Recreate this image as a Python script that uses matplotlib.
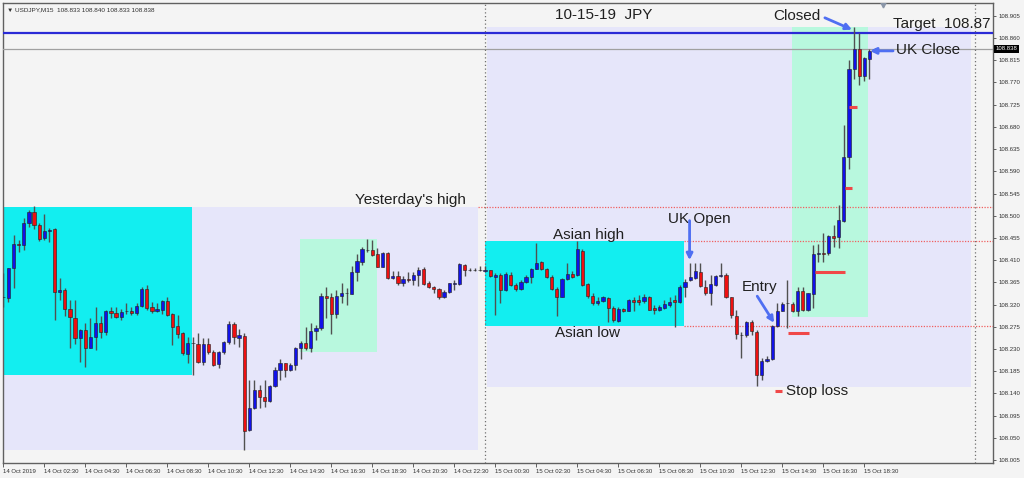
import numpy as np
import matplotlib.pyplot as plt
from matplotlib.patches import Rectangle

# USDJPY M15 candles, 14 Oct 00:30 -> 15 Oct 19:00
opens = [108.336, 108.334, 108.394, 108.443, 108.440, 108.486, 108.507, 108.481, 108.454, 108.469,
         108.473, 108.346, 108.350, 108.312, 108.293, 108.253, 108.269, 108.233, 108.254, 108.283,
         108.265, 108.306, 108.302, 108.294, 108.306, 108.306, 108.302, 108.318, 108.352, 108.316,
         108.306, 108.309, 108.327, 108.300, 108.277, 108.262, 108.220, 108.243, 108.241, 108.203,
         108.241, 108.223, 108.199, 108.223, 108.245, 108.280, 108.253, 108.257, 108.066, 108.110,
         108.147, 108.133, 108.125, 108.154, 108.187, 108.201, 108.187, 108.198, 108.231, 108.242,
         108.231, 108.266, 108.272, 108.337, 108.336, 108.301, 108.337, 108.343, 108.341, 108.386,
         108.407, 108.431, 108.431, 108.423, 108.397, 108.425, 108.373, 108.377, 108.363, 108.372,
         108.369, 108.379, 108.392, 108.363, 108.356, 108.351, 108.336, 108.346, 108.361, 108.361,
         108.400, 108.390, 108.390, 108.390, 108.388, 108.390, 108.375, 108.380, 108.350, 108.380,
         108.360, 108.351, 108.366, 108.375, 108.392, 108.406, 108.392, 108.375, 108.351, 108.336,
         108.371, 108.381, 108.380, 108.429, 108.361, 108.337, 108.323, 108.328, 108.333, 108.314,
         108.287, 108.312, 108.307, 108.329, 108.329, 108.328, 108.336, 108.314, 108.310, 108.314,
         108.319, 108.329, 108.326, 108.355, 108.369, 108.373, 108.385, 108.356, 108.344, 108.360,
         108.378, 108.380, 108.335, 108.297, 108.258, 108.258, 108.285, 108.265, 108.177, 108.206,
         108.210, 108.277, 108.307, 108.323, 108.321, 108.306, 108.348, 108.308, 108.342, 108.423,
         108.424, 108.424, 108.459, 108.456, 108.490, 108.618, 108.797, 108.838, 108.783, 108.817,
         108.833]
highs = [108.383, 108.394, 108.461, 108.451, 108.495, 108.512, 108.519, 108.485, 108.504, 108.476,
         108.475, 108.373, 108.353, 108.329, 108.329, 108.270, 108.282, 108.292, 108.316, 108.296,
         108.309, 108.316, 108.316, 108.312, 108.323, 108.316, 108.323, 108.356, 108.360, 108.326,
         108.323, 108.329, 108.335, 108.302, 108.298, 108.265, 108.255, 108.255, 108.263, 108.252,
         108.252, 108.228, 108.225, 108.247, 108.287, 108.285, 108.270, 108.262, 108.168, 108.168,
         108.157, 108.168, 108.157, 108.194, 108.209, 108.202, 108.202, 108.235, 108.247, 108.274,
         108.283, 108.279, 108.343, 108.356, 108.344, 108.350, 108.363, 108.353, 108.399, 108.423,
         108.437, 108.452, 108.450, 108.434, 108.427, 108.427, 108.389, 108.387, 108.377, 108.385,
         108.385, 108.397, 108.397, 108.368, 108.358, 108.354, 108.350, 108.364, 108.370, 108.404,
         108.402, 108.395, 108.395, 108.398, 108.399, 108.391, 108.383, 108.383, 108.385, 108.385,
         108.363, 108.370, 108.380, 108.395, 108.444, 108.408, 108.394, 108.380, 108.356, 108.373,
         108.404, 108.387, 108.448, 108.432, 108.363, 108.343, 108.335, 108.337, 108.336, 108.317,
         108.316, 108.314, 108.331, 108.336, 108.340, 108.342, 108.337, 108.319, 108.319, 108.329,
         108.336, 108.340, 108.360, 108.371, 108.405, 108.404, 108.404, 108.369, 108.380, 108.380,
         108.404, 108.383, 108.336, 108.309, 108.265, 108.287, 108.289, 108.269, 108.211, 108.216,
         108.279, 108.324, 108.326, 108.369, 108.326, 108.356, 108.355, 108.344, 108.441, 108.443,
         108.464, 108.461, 108.481, 108.522, 108.684, 108.816, 108.883, 108.870, 108.821, 108.837,
         108.840]
lows = [108.316, 108.326, 108.353, 108.427, 108.431, 108.478, 108.473, 108.448, 108.451, 108.446,
        108.289, 108.329, 108.296, 108.231, 108.241, 108.204, 108.193, 108.231, 108.228, 108.252,
        108.258, 108.292, 108.292, 108.289, 108.301, 108.299, 108.299, 108.316, 108.309, 108.302,
        108.304, 108.301, 108.297, 108.239, 108.252, 108.218, 108.201, 108.177, 108.201, 108.198,
        108.220, 108.196, 108.192, 108.220, 108.241, 108.241, 108.235, 108.025, 108.064, 108.108,
        108.110, 108.113, 108.123, 108.152, 108.168, 108.174, 108.186, 108.187, 108.209, 108.228,
        108.223, 108.248, 108.268, 108.292, 108.260, 108.292, 108.323, 108.319, 108.341, 108.367,
        108.400, 108.427, 108.419, 108.396, 108.396, 108.371, 108.371, 108.360, 108.358, 108.366,
        108.360, 108.358, 108.360, 108.353, 108.343, 108.331, 108.333, 108.344, 108.350, 108.359,
        108.378, 108.387, 108.387, 108.389, 108.386, 108.375, 108.299, 108.324, 108.348, 108.358,
        108.348, 108.350, 108.364, 108.363, 108.392, 108.390, 108.373, 108.350, 108.296, 108.335,
        108.370, 108.373, 108.378, 108.358, 108.333, 108.319, 108.319, 108.326, 108.285, 108.285,
        108.285, 108.305, 108.306, 108.306, 108.319, 108.323, 108.309, 108.301, 108.306, 108.312,
        108.316, 108.275, 108.324, 108.336, 108.367, 108.371, 108.356, 108.340, 108.319, 108.358,
        108.375, 108.333, 108.292, 108.250, 108.211, 108.255, 108.258, 108.154, 108.167, 108.204,
        108.208, 108.274, 108.306, 108.272, 108.304, 108.296, 108.306, 108.306, 108.313, 108.407,
        108.407, 108.420, 108.437, 108.434, 108.488, 108.594, 108.777, 108.765, 108.772, 108.777,
        108.833]
closes = [108.336, 108.394, 108.443, 108.440, 108.486, 108.507, 108.481, 108.452, 108.469, 108.471,
          108.346, 108.350, 108.311, 108.294, 108.252, 108.268, 108.233, 108.254, 108.283, 108.264,
          108.307, 108.302, 108.295, 108.305, 108.306, 108.302, 108.317, 108.351, 108.314, 108.306,
          108.311, 108.327, 108.299, 108.275, 108.260, 108.221, 108.243, 108.243, 108.204, 108.241,
          108.223, 108.198, 108.223, 108.244, 108.280, 108.254, 108.258, 108.064, 108.110, 108.147,
          108.133, 108.125, 108.154, 108.187, 108.201, 108.187, 108.198, 108.233, 108.242, 108.231,
          108.266, 108.272, 108.337, 108.334, 108.301, 108.338, 108.343, 108.343, 108.386, 108.408,
          108.432, 108.431, 108.421, 108.397, 108.425, 108.373, 108.377, 108.363, 108.372, 108.369,
          108.380, 108.390, 108.362, 108.356, 108.351, 108.336, 108.346, 108.363, 108.364, 108.402,
          108.390, 108.390, 108.390, 108.390, 108.390, 108.377, 108.380, 108.350, 108.381, 108.360,
          108.351, 108.366, 108.375, 108.392, 108.405, 108.392, 108.375, 108.351, 108.336, 108.371,
          108.381, 108.375, 108.432, 108.360, 108.337, 108.323, 108.328, 108.335, 108.314, 108.289,
          108.312, 108.307, 108.329, 108.326, 108.326, 108.336, 108.310, 108.310, 108.316, 108.321,
          108.326, 108.326, 108.355, 108.366, 108.375, 108.387, 108.358, 108.344, 108.362, 108.377,
          108.379, 108.335, 108.299, 108.260, 108.258, 108.284, 108.267, 108.177, 108.206, 108.210,
          108.277, 108.307, 108.321, 108.323, 108.306, 108.348, 108.308, 108.343, 108.423, 108.424,
          108.423, 108.459, 108.454, 108.492, 108.618, 108.798, 108.838, 108.783, 108.819, 108.833,
          108.838]

time_labels = ["14 Oct 2019", "14 Oct 02:30", "14 Oct 04:30", "14 Oct 06:30", "14 Oct 08:30",
               "14 Oct 10:30", "14 Oct 12:30", "14 Oct 14:30", "14 Oct 16:30", "14 Oct 18:30",
               "14 Oct 20:30", "14 Oct 22:30", "15 Oct 00:30", "15 Oct 02:30", "15 Oct 04:30",
               "15 Oct 06:30", "15 Oct 08:30", "15 Oct 10:30", "15 Oct 12:30", "15 Oct 14:30",
               "15 Oct 16:30", "15 Oct 18:30"]
price_ticks = [108.005, 108.050, 108.095, 108.140, 108.185, 108.230, 108.275, 108.320, 108.365,
               108.410, 108.455, 108.500, 108.545, 108.590, 108.635, 108.680, 108.725, 108.770,
               108.815, 108.860, 108.905]

# session boxes: (first bar, last bar, low, high)
yesterday_box = (-0.1, 92.6, 108.026, 108.518)
today_box = (94.4, 188.8, 108.153, 108.883)
asia_box_14 = (-0.1, 36.9, 108.177, 108.518)
asia_box_15 = (94.0, 132.8, 108.277, 108.449)
move_box_14 = (57.9, 72.9, 108.224, 108.453)
move_box_15 = (153.9, 168.7, 108.294, 108.883)

target = 108.870
last_price = 108.838
yesterday_high = 108.518
asian_high = 108.449
asian_low = 108.277
stop_marks = [(153.1, 157.2, 108.262), (158.4, 164.2, 108.386),
              (164.2, 165.6, 108.557), (165.0, 166.6, 108.721)]

bg = '#f4f4f4'
fig = plt.figure(figsize=(10.24, 4.78), dpi=100, facecolor=bg)
ax = fig.add_axes([3 / 1024, 15 / 478, 990 / 1024, 460 / 478])
ax.set_facecolor(bg)
ax.set_xlim(-0.06, 193.1)
ax.set_ylim(107.999, 108.931)

def box(b, color, z):
    ax.add_patch(Rectangle((b[0], b[2]), b[1] - b[0], b[3] - b[2], facecolor=color,
                           edgecolor='none', zorder=z))

box(yesterday_box, '#e6e6fa', 1)
box(today_box, '#e6e6fa', 1)
box(asia_box_14, '#12eef0', 2)
box(asia_box_15, '#12eef0', 2)
box(move_box_14, '#b8f8de', 2)
box(move_box_15, '#b8f8de', 2)

# level lines
ax.axhline(target, color='#2a2ad6', lw=1.6, zorder=3)
ax.axhline(last_price, color='#a0a0a0', lw=0.9, zorder=3)
ax.hlines(yesterday_high, 92.6, 193.1, colors='#f06060', linestyles=(0, (1, 1.2)), lw=0.9, zorder=3)
ax.hlines([asian_high, asian_low], 132.8, 193.1, colors='#f06060', linestyles=(0, (1, 1.2)), lw=0.9, zorder=3)
ax.axvline(93.98, color='#707070', ls=(0, (1, 2)), lw=0.9, zorder=3)
ax.axvline(189.6, color='#707070', ls=(0, (1, 2)), lw=0.9, zorder=3)

# candles
x = np.arange(len(opens))
o = np.array(opens); h = np.array(highs); l = np.array(lows); c = np.array(closes)
up = c >= o
ax.vlines(x, l, h, color='#505050', lw=1, zorder=4)
ax.bar(x, np.abs(c - o), bottom=np.minimum(o, c), width=0.62,
       color=np.where(up, '#1212e8', '#ee1010'), edgecolor='#202020', lw=0.4, zorder=5)

for x0, x1, p in stop_marks:
    ax.hlines(p, x0, x1, colors='#f04848', lw=2.2, zorder=6)
ax.hlines(108.144, 150.6, 152.0, colors='#f04848', lw=2.2, zorder=6)

# annotations
txt = dict(fontsize=11, family=['Liberation Sans', 'DejaVu Sans'], color='#202020', va='center', zorder=7)
arrow = dict(arrowstyle='-|>', color='#4f6ff2', lw=2, mutation_scale=9, shrinkA=0, shrinkB=0)
ax.text(107.7, 108.907, '10-15-19  JPY', **txt)
ax.text(150.2, 108.905, 'Closed', **txt)
ax.annotate('', xy=(165.6, 108.877), xytext=(160.3, 108.901), arrowprops=arrow, zorder=7)
ax.text(173.6, 108.889, 'Target  108.87', **txt)
ax.text(174.2, 108.836, 'UK Close', **txt)
ax.annotate('', xy=(169.1, 108.834), xytext=(173.6, 108.834), arrowprops=arrow, zorder=7)
ax.text(68.6, 108.532, "Yesterday's high", **txt)
ax.text(107.3, 108.461, 'Asian high', **txt)
ax.text(129.7, 108.494, 'UK Open', **txt)
ax.annotate('', xy=(133.9, 108.410), xytext=(133.9, 108.490), arrowprops=arrow, zorder=7)
ax.text(107.7, 108.262, 'Asian low', **txt)
ax.text(144.1, 108.356, 'Entry', **txt)
ax.annotate('', xy=(150.4, 108.283), xytext=(147.1, 108.337), arrowprops=arrow, zorder=7)
ax.text(152.7, 108.145, 'Stop loss', **txt)

# header and chart shift marker
ax.text(0.004, 0.99, '\u25bc USDJPY,M15  108.833 108.840 108.833 108.838', transform=ax.transAxes,
        fontsize=4.6, family=['Liberation Sans', 'DejaVu Sans'], color='#303030', va='top', ha='left')
ax.plot(171.6, 108.926, marker='v', color='#8a96a8', ms=3.5, zorder=7)

# axes
for s in ax.spines.values():
    s.set_color('#606060')
    s.set_linewidth(1)
ax.set_xticks(np.arange(0, 8 * len(time_labels), 8))
ax.set_xticklabels(time_labels, ha='left')
ax.yaxis.tick_right()
ax.set_yticks(price_ticks)
ax.set_yticklabels([f'{p:.3f}' for p in price_ticks])
ax.tick_params(axis='x', length=3, width=0.7, color='#606060', pad=1, labelsize=4.3, labelcolor='#303030')
ax.tick_params(axis='y', length=2.5, width=0.7, color='#606060', pad=1.5, labelsize=4.3, labelcolor='#303030')
for t in ax.get_xticklabels() + ax.get_yticklabels():
    t.set_family(['Liberation Sans', 'DejaVu Sans'])

# current price tag
ax.text(1.003, last_price, f'{last_price:.3f}', transform=ax.get_yaxis_transform(), fontsize=4.3,
        color='white', va='center', ha='left', family=['Liberation Sans', 'DejaVu Sans'],
        bbox=dict(boxstyle='square,pad=0.25', facecolor='black', edgecolor='none'), zorder=8)

fig.savefig('out.png', dpi=100, facecolor=bg)
